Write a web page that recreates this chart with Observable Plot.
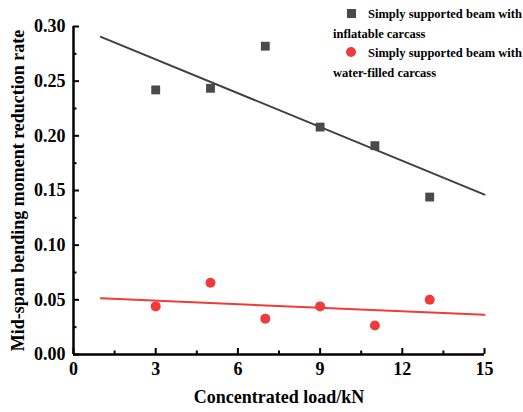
<!DOCTYPE html>
<html>
<head>
<meta charset="utf-8">
<script src="https://cdn.jsdelivr.net/npm/d3@7"></script>
<script src="https://cdn.jsdelivr.net/npm/@observablehq/plot@0.6"></script>
<style>
  html, body { margin: 0; padding: 0; background: #fff; }
  #wrap { position: relative; width: 523px; height: 412px; }
  #legend { position: absolute; left: 333px; top: 5px; font-family: "Liberation Serif", "Times New Roman", serif; font-weight: bold; font-size: 12.5px; color: #000; line-height: 19.5px; }
  #legend .row { white-space: nowrap; }
  #legend .sym { display: inline-block; width: 35px; position: relative; height: 10px; }
  #legend .sq { position: absolute; left: 14px; top: 1px; width: 9px; height: 9px; background: #4a4a4a; }
  #legend .ci { position: absolute; left: 13px; top: 0px; width: 10px; height: 10px; border-radius: 50%; background: #ef3b3b; }
</style>
</head>
<body>
<div id="wrap">
  <div id="chart"></div>
  <div id="legend">
    <div class="row"><span class="sym"><span class="sq"></span></span>Simply supported beam with</div>
    <div class="row">inflatable carcass</div>
    <div class="row"><span class="sym"><span class="ci"></span></span>Simply supported beam with</div>
    <div class="row">water-filled carcass</div>
  </div>
</div>
<script>
// Data
const loads = [3, 5, 7, 9, 11, 13];
const inflatable = [0.242, 0.2435, 0.282, 0.208, 0.191, 0.144];
const waterFilled = [0.044, 0.0656, 0.0328, 0.044, 0.0266, 0.050];
const fitRange = [1, 15];
const xMajorTicks = [0, 3, 6, 9, 12, 15];
const xMinorTicks = [1.5, 4.5, 7.5, 10.5, 13.5];
const yMajorTicks = [0, 0.05, 0.10, 0.15, 0.20, 0.25, 0.30];
const yMinorTicks = [0.025, 0.075, 0.125, 0.175, 0.225, 0.275];
const xTitle = "Concentrated load/kN";
const yTitle = "Mid-span bending moment reduction rate";

const grayColor = "#4a4a4a";
const redColor = "#ef3b3b";

function regression(xs, ys) {
  const mx = d3.mean(xs), my = d3.mean(ys);
  const sxy = d3.sum(xs, (x, i) => (x - mx) * (ys[i] - my));
  const sxx = d3.sum(xs, x => (x - mx) ** 2);
  const slope = sxy / sxx;
  const intercept = my - slope * mx;
  return fitRange.map(x => ({x, y: intercept + slope * x}));
}

const ptsA = loads.map((x, i) => ({x, y: inflatable[i]}));
const ptsB = loads.map((x, i) => ({x, y: waterFilled[i]}));
const fitA = regression(loads, inflatable);
const fitB = regression(loads, waterFilled);

const W = 523, H = 412, ML = 73, MR = 39, MT = 26, MB = 58;
const frameW = W - ML - MR, frameH = H - MT - MB;
const xDomain = [0, 15], yDomain = [0, 0.30];
// tick lengths in pixels, converted to data units for inward tick rules
const majorLen = 6, minorLen = 3.5;
const pxY = (yDomain[1] - yDomain[0]) / frameH;
const pxX = (xDomain[1] - xDomain[0]) / frameW;

const chart = Plot.plot({
  width: W,
  height: H,
  marginLeft: ML,
  marginRight: MR,
  marginTop: MT,
  marginBottom: MB,
  style: {fontFamily: "'Liberation Serif', 'Times New Roman', serif", fontWeight: "bold", fontSize: "18px", color: "#000", background: "transparent"},
  x: {domain: xDomain},
  y: {domain: yDomain},
  marks: [
    Plot.line(fitA, {x: "x", y: "y", stroke: "#3f3f3f", strokeWidth: 2}),
    Plot.line(fitB, {x: "x", y: "y", stroke: redColor, strokeWidth: 2}),
    Plot.dot(ptsA, {x: "x", y: "y", symbol: "square", r: 5, fill: grayColor, stroke: "none"}),
    Plot.dot(ptsB, {x: "x", y: "y", symbol: "circle", r: 5, fill: redColor, stroke: "none"}),
    Plot.axisX({ticks: xMajorTicks, tickSize: 0, tickPadding: 8, tickFormat: d => d, label: null}),
    Plot.axisY({ticks: yMajorTicks, tickSize: 0, tickPadding: 8, tickFormat: d3.format(".2f"), label: null}),
    Plot.ruleX(xMajorTicks, {x: d => d, y1: yDomain[0], y2: yDomain[0] + majorLen * pxY, stroke: "#000", strokeWidth: 2}),
    Plot.ruleX(xMinorTicks, {x: d => d, y1: yDomain[0], y2: yDomain[0] + minorLen * pxY, stroke: "#000", strokeWidth: 2}),
    Plot.ruleY(yMajorTicks, {y: d => d, x1: xDomain[0], x2: xDomain[0] + majorLen * pxX, stroke: "#000", strokeWidth: 2}),
    Plot.ruleY(yMinorTicks, {y: d => d, x1: xDomain[0], x2: xDomain[0] + minorLen * pxX, stroke: "#000", strokeWidth: 2}),
    Plot.ruleY([0], {stroke: "#000", strokeWidth: 2.5}),
    Plot.ruleX([0], {stroke: "#000", strokeWidth: 2.5}),
    Plot.text([xTitle], {text: d => d, frameAnchor: "bottom", dy: 43, fontSize: 18, lineAnchor: "middle", textAnchor: "middle"}),
    Plot.text([yTitle], {text: d => d, frameAnchor: "left", dx: -55, rotate: -90, fontSize: 18, lineAnchor: "middle", textAnchor: "middle"})
  ]
});
document.getElementById("chart").appendChild(chart);
</script>
</body>
</html>
